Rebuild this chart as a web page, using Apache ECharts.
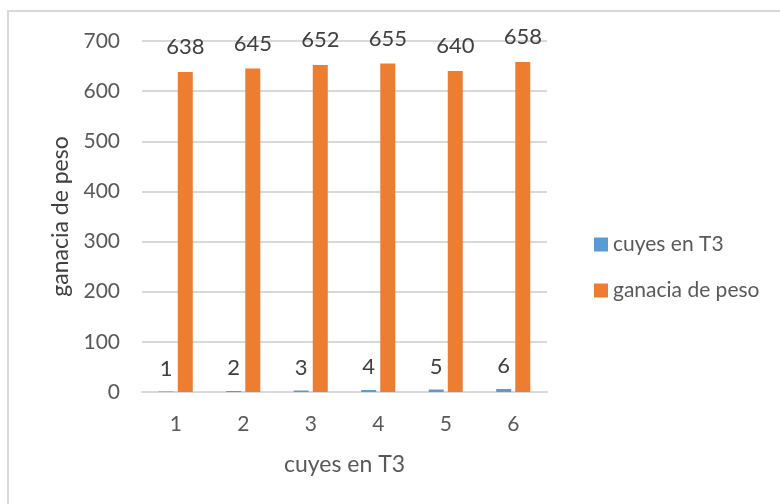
<!DOCTYPE html>
<html>
<head>
<meta charset="utf-8">
<script src="https://cdn.jsdelivr.net/npm/echarts@6/dist/echarts.min.js"></script>
<style>
  html, body { margin: 0; padding: 0; background: #fff; }
  #chart { width: 780px; height: 504px; }
</style>
</head>
<body>
<div id="chart"></div>
<script>
const categories = ['1', '2', '3', '4', '5', '6']
const cuyesT3 = [1, 2, 3, 4, 5, 6]
const gananciaPeso = [638, 645, 652, 655, 640, 658]
const yTicks = [0, 100, 200, 300, 400, 500, 600, 700]

const font = 'Lato'
const chart = echarts.init(document.getElementById('chart'))

chart.setOption({
  backgroundColor: '#fff',
  textStyle: { fontFamily: font },
  graphic: [{
    type: 'rect',
    shape: { x: 8, y: 11, width: 800, height: 520 },
    style: { fill: 'none', stroke: '#d9d9d9', lineWidth: 2 },
    silent: true
  }],
  grid: { left: 142, right: 233, top: 41, bottom: 112 },
  legend: {
    orient: 'vertical',
    left: 589,
    top: 229,
    itemWidth: 14,
    itemHeight: 14,
    itemGap: 25,
    icon: 'rect',
    textStyle: { color: '#595959', fontSize: 21, fontFamily: font, lineHeight: 21 },
    data: ['cuyes en T3', 'ganacia de peso']
  },
  xAxis: {
    type: 'category',
    data: categories,
    name: 'cuyes en T3',
    nameLocation: 'middle',
    nameGap: 61,
    nameTextStyle: { color: '#595959', fontSize: 23, fontFamily: font },
    axisLine: { lineStyle: { color: '#d9d9d9', width: 2 } },
    axisTick: { show: false },
    axisLabel: { color: '#595959', fontSize: 21, margin: 22, fontFamily: font }
  },
  yAxis: {
    type: 'value',
    min: yTicks[0],
    max: yTicks[yTicks.length - 1],
    interval: 100,
    name: 'ganacia de peso',
    nameLocation: 'middle',
    nameGap: 70,
    nameTextStyle: { color: '#404040', fontSize: 23, fontFamily: font },
    axisLine: { show: false },
    axisTick: { show: false },
    axisLabel: { color: '#595959', fontSize: 21, margin: 22, fontFamily: font },
    splitLine: { lineStyle: { color: '#d9d9d9', width: 2 } }
  },
  series: [
    {
      name: 'cuyes en T3',
      type: 'bar',
      data: cuyesT3,
      barWidth: 15,
      barGap: '27%',
      itemStyle: { color: '#5b9bd5' },
      label: { show: true, position: 'top', distance: 12, color: '#404040', fontSize: 22, fontFamily: font }
    },
    {
      name: 'ganacia de peso',
      type: 'bar',
      data: gananciaPeso,
      barWidth: 15,
      itemStyle: { color: '#ed7d31' },
      label: { show: true, position: 'top', distance: 14, color: '#404040', fontSize: 22, fontFamily: font }
    }
  ]
})
</script>
</body>
</html>
